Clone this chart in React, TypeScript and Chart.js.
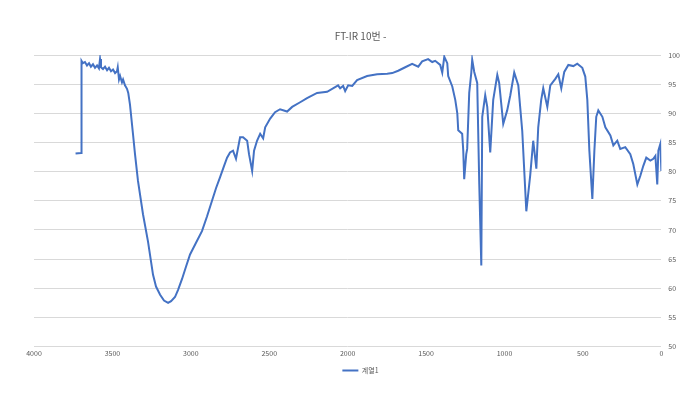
import React, { useEffect, useRef } from "react";
import { Chart, registerables } from "chart.js";

Chart.register(...registerables);

const chartTitle = "FT-IR 10번 -";
const seriesName = "계열1";

// wavenumber (cm-1)
const wavenumbers: number[] = [
  3735, 3700, 3697, 3688, 3675, 3662, 3649, 3637, 3624, 3611, 3598, 3586, 3579, 3573,
  3560, 3547, 3534, 3522, 3509, 3496, 3483, 3471, 3466, 3458, 3451, 3439, 3432, 3420,
  3407, 3399, 3388, 3369, 3356, 3337, 3305, 3273, 3241, 3222, 3196, 3171, 3145, 3126,
  3101, 3082, 3056, 3031, 3005, 2967, 2929, 2897, 2865, 2839, 2814, 2788, 2769, 2750,
  2731, 2712, 2686, 2667, 2641, 2629, 2609, 2597, 2578, 2558, 2539, 2526, 2494, 2463,
  2431, 2386, 2354, 2303, 2259, 2195, 2131, 2080, 2061, 2048, 2029, 2016, 1997, 1971,
  1940, 1876, 1812, 1748, 1716, 1678, 1633, 1589, 1550, 1525, 1487, 1461, 1442, 1410,
  1397, 1384, 1365, 1359, 1333, 1314, 1301, 1295, 1270, 1263, 1257, 1244, 1238, 1225,
  1212, 1206, 1193, 1174, 1161, 1148, 1142, 1123, 1110, 1091, 1072, 1046, 1034, 1008,
  983, 963, 938, 912, 887, 861, 836, 817, 797, 785, 766, 753, 727, 708, 676, 657, 638,
  619, 593, 561, 536, 504, 485, 472, 459, 440, 427, 415, 402, 376, 357, 325, 306, 281,
  262, 230, 198, 179, 153, 134, 115, 96, 70, 51, 38, 26, 19, 6, 0,
];

// transmittance (%)
const transmittance: number[] = [
  83.1, 83.2, 99.0, 98.6, 98.8, 98.2, 98.6, 98.0, 98.4, 97.8, 98.2, 97.7, 99.3, 97.9,
  97.6, 98.0, 97.4, 97.8, 97.2, 97.5, 96.9, 97.2, 97.9, 95.8, 96.4, 95.3, 95.8, 94.8,
  94.2, 93.5, 91.5, 86.5, 83.0, 78.4, 72.7, 68.0, 62.3, 60.3, 58.9, 57.9, 57.5, 57.8,
  58.5, 59.7, 61.6, 63.7, 65.8, 67.8, 69.8, 72.3, 75.0, 77.2, 79.0, 81.0, 82.4, 83.3,
  83.6, 82.2, 85.9, 85.9, 85.3, 83.0, 80.1, 83.6, 85.3, 86.5, 85.7, 87.6, 89.1, 90.2,
  90.7, 90.3, 91.1, 91.9, 92.6, 93.5, 93.7, 94.5, 94.8, 94.3, 94.7, 93.8, 94.8, 94.7,
  95.7, 96.4, 96.7, 96.8, 96.9, 97.3, 97.9, 98.5, 98.0, 98.9, 99.3, 98.8, 99.0, 98.3,
  97.0, 99.7, 98.6, 96.4, 94.6, 92.3, 90.0, 87.1, 86.5, 83.6, 78.7, 83.0, 83.9, 93.5,
  96.9, 99.2, 97.1, 95.2, 77.9, 63.9, 89.4, 93.1, 91.1, 83.3, 92.3, 96.6, 95.2, 88.2,
  90.5, 93.1, 97.0, 94.8, 87.0, 73.2, 79.4, 85.3, 80.5, 87.6, 92.3, 94.3, 91.1, 94.8, 95.9, 96.7, 94.3,
  97.1, 98.3, 98.1, 98.5, 97.8, 96.3, 92.3, 83.6, 75.3, 83.6, 89.4, 90.5, 89.4, 87.6, 86.2, 84.5, 85.3,
  83.9, 84.2, 83.0, 81.3, 77.8, 79.3, 81.0, 82.4, 81.9, 82.2, 82.7, 77.8, 83.6, 84.8, 80.1,
];

const xMin = 0;
const xMax = 4000;
const xStep = 500;
const yMin = 50;
const yMax = 100;
const yStep = 5;

const FONT = "'Noto Sans CJK KR', 'Noto Sans', sans-serif";
const TEXT = "#595959";

export default function App() {
  const ref = useRef<HTMLCanvasElement | null>(null);

  useEffect(() => {
    if (!ref.current) return;
    const points = wavenumbers.map((w, i) => ({ x: w, y: transmittance[i] }));
    const chart = new Chart(ref.current, {
      type: "line",
      data: {
        datasets: [
          {
            label: seriesName,
            data: points,
            borderColor: "#4472C4",
            backgroundColor: "#4472C4",
            borderWidth: 2,
            pointRadius: 0,
            tension: 0,
          },
        ],
      },
      options: {
        animation: false,
        responsive: false,
        maintainAspectRatio: false,
        layout: { padding: { top: 26, left: 34, right: 13, bottom: 10 } },
        plugins: {
          title: {
            display: true,
            text: chartTitle,
            color: TEXT,
            font: { family: FONT, size: 10, weight: "normal" },
            padding: { top: 4, bottom: 13 },
          },
          legend: {
            position: "bottom",
            labels: {
              color: TEXT,
              font: { family: FONT, size: 7 },
              usePointStyle: true,
              pointStyle: "line",
              pointStyleWidth: 16,
              boxHeight: 7,
              padding: 6,
            },
          },
          tooltip: { enabled: false },
        },
        scales: {
          x: {
            type: "linear",
            reverse: true,
            min: xMin,
            max: xMax,
            ticks: {
              stepSize: xStep,
              color: TEXT,
              font: { family: FONT, size: 7 },
              maxRotation: 0,
              padding: 3,
              callback: (v: any) => String(v),
            },
            grid: { display: false, drawTicks: false },
            border: { display: false },
          },
          y: {
            position: "right",
            min: yMin,
            max: yMax,
            ticks: {
              stepSize: yStep,
              color: TEXT,
              font: { family: FONT, size: 7 },
              padding: 7,
              callback: (v: any) => String(v),
            },
            grid: { color: "#d9d9d9", drawTicks: false },
            border: { display: false },
          },
        },
      },
    });
    return () => chart.destroy();
  }, []);

  return (
    <div style={{ position: "fixed", left: 0, top: 0, width: 700, height: 394, background: "#fff" }}>
      <canvas ref={ref} width={700} height={394} style={{ width: 700, height: 394 }} />
    </div>
  );
}
